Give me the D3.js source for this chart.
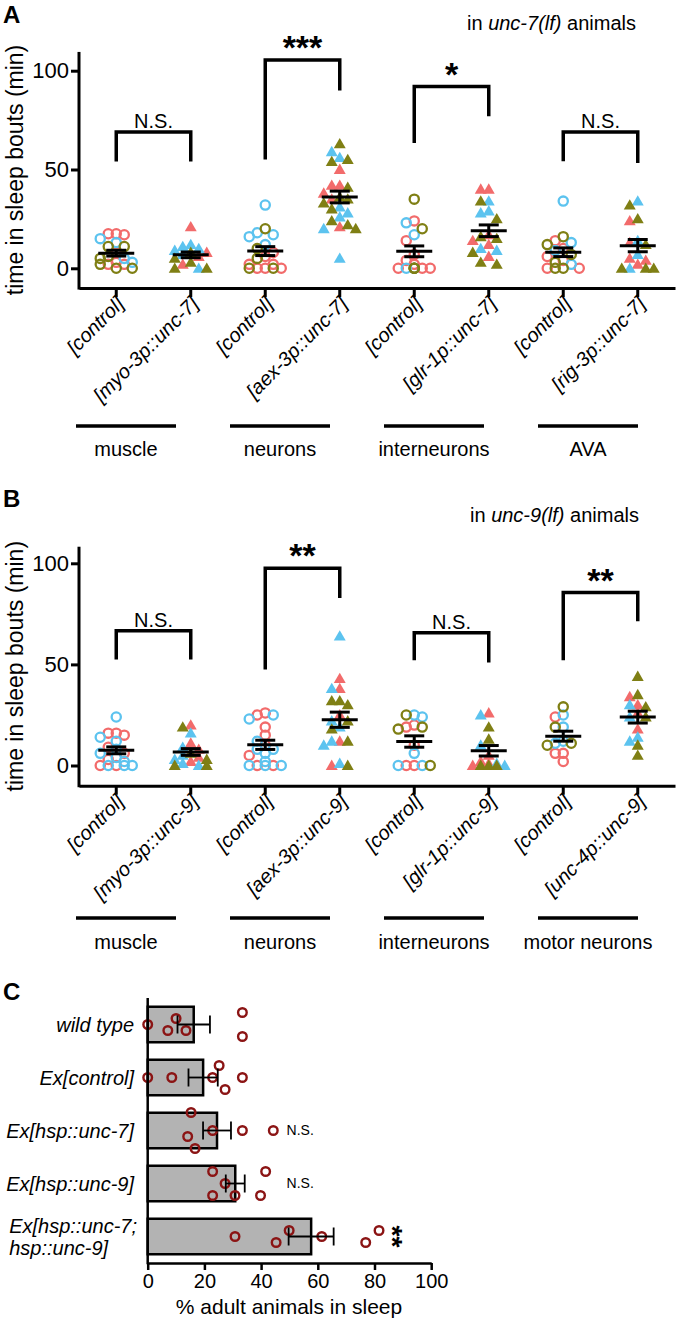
<!DOCTYPE html>
<html>
<head>
<meta charset="utf-8">
<script src="https://cdn.jsdelivr.net/npm/d3@7"></script>
<style>
body { margin: 0; background: #fff; }
svg { display: block; font-family: "Liberation Sans", Arial, sans-serif; }
text { white-space: pre; }
</style>
</head>
<body>
<svg id="fig" width="677" height="1323"></svg>
<script>
// replicate colours: salmon, sky blue, olive
const COLORS = ["#f26b6b", "#5cc3ef", "#7f7f14"];

// ---- panel A : unc-7(lf)
const catsA = ["[control]", "[myo-3p::unc-7]", "[control]", "[aex-3p::unc-7]",
               "[control]", "[glr-1p::unc-7]", "[control]", "[rig-3p::unc-7]"];
const groupsA = ["muscle", "neurons", "interneurons", "AVA"];
const aSalmon = [
  [17.5, 17.5, 17, 8, 3, 2, 2],
  [21, 8, 6, 2],
  [8, 6, 2, 2, 0, 0, 0],
  [50, 42, 42, 38, 35, 21],
  [24, 14, 7, 4, 2, 0, 0, 0],
  [40, 40, 14, 12, 6, 17],
  [14, 10, 6, 4, 0, 0],
  [24, 13, 5, 4, 2]
];
const aBlue = [
  [15, 13, 5, 3],
  [12, 11, 10, 9, 7, 0],
  [32, 18, 17, 16, 12],
  [59, 56, 31, 28, 26, 20, 5],
  [23, 17, 0, 0],
  [34, 29, 28, 10, 9],
  [34, 13, 9, 2],
  [34, 14, 7, 0]
];
const aOlive = [
  [11, 11, 6, 5, 2, 0, 0],
  [8, 5, 3, 0, 0],
  [20, 10, 5, 0, 0],
  [63, 55, 54, 41, 36, 35, 33, 30, 24, 22, 20],
  [35, 20, 0, 0, 0],
  [34, 25, 16, 15, 8, 3, 2],
  [16, 12, 7, 3, 0, 0],
  [32, 25, 12, 0, 0, 0]
];
// [bracket top, left leg end, right leg end, label]
const bracketsA = [[69, 54, 54, "N.S."], [105.4, 55, 90, "***"], [92, 63.4, 77, "*"], [69, 54.2, 53.3, "N.S."]];

// ---- panel B : unc-9(lf)
const catsB = ["[control]", "[myo-3p::unc-9]", "[control]", "[aex-3p::unc-9]",
               "[control]", "[glr-1p::unc-9]", "[control]", "[unc-4p::unc-9]"];
const groupsB = ["muscle", "neurons", "interneurons", "motor neurons"];
const bSalmon = [
  [16, 16, 15, 9, 6, 3, 0, 0],
  [20, 11, 8, 4, 2],
  [26, 25, 19, 15, 10, 5, 0, 0],
  [43, 38, 25, 12, 0],
  [20, 19, 10, 0, 0],
  [26, 5, 2, 1, 0],
  [24, 6, 6, 2],
  [34, 30, 26, 18]
];
const bBlue = [
  [24, 14, 12, 8, 6, 4, 2, 0, 0, 0],
  [16, 9, 5, 3, 1, 0],
  [25, 23, 12, 8, 8, 6, 2, 0, 0, 0],
  [64, 38, 22, 19, 12, 10, 1],
  [25, 24, 6, 0, 0],
  [25, 10, 1, 0],
  [25, 19, 12, 11],
  [30, 24, 14, 12]
];
const bOlive = [
  [],
  [19, 6, 3, 0, 0],
  [],
  [32, 32, 30, 22, 18, 12, 0],
  [25, 19, 18, 0],
  [19, 13, 0, 0, 0],
  [29, 19, 11, 10],
  [44, 35, 29, 24, 10, 5]
];
const bracketsB = [[66.7, 52.4, 52.4, "N.S."], [97.5, 47.5, 82.8, "**"], [65.6, 52, 51, "N.S."], [85.5, 52, 71.3, "**"]];

// ---- panel C : heat-shock expression
const catsC = ["wild type", "Ex[control]", "Ex[hsp::unc-7]", "Ex[hsp::unc-9]", "Ex[hsp::unc-7;\nhsp::unc-9]"];
const pointsC = [
  [0, 7.1, 10, 13.5, 33.4, 33.4],
  [0, 8.5, 22.9, 25.2, 27.3, 33.4],
  [14.1, 15.3, 16.7, 22.9, 33.4, 44.3],
  [22.9, 22.9, 27.3, 30.8, 39.8, 41.6],
  [30.8, 45.3, 49.9, 61.4, 76.9, 81.6]
];
const statsC = ["", "", "N.S.", "N.S.", "**"];
const ticksC = [0, 20, 40, 60, 80, 100];

const svg = d3.select("#fig");

// greedy dodge: offsets across the value axis so marks don't pile up.
// lanes are limited to +-maxOff; when all are taken the least crowded one wins
function dodge(pos, minD, step, maxOff, center) {
  const order = d3.range(pos.length).sort((a, b) => pos[a] - pos[b]);
  const lanes = [0];
  for (let k = 1; k * step <= maxOff; k++) lanes.push(-k * step, k * step);
  const off = new Array(pos.length);
  const placed = [];
  for (const i of order) {
    let best = 0, bestD = -1;
    for (const o of lanes) {
      const d = placed.length ? d3.min(placed, j => Math.hypot(pos[i] - pos[j], o - off[j])) : Infinity;
      if (d >= minD) { best = o; bestD = d; break; }
      if (d > bestD) { best = o; bestD = d; }
    }
    off[i] = best; placed.push(i);
  }
  if (center) {
    // centre each run of touching marks around the axis
    let run = [order[0]];
    const flush = () => {
      const ext = d3.extent(run, j => off[j]);
      const s = (ext[0] + ext[1]) / 2;
      run.forEach(j => off[j] -= s);
    };
    for (let n = 1; n < order.length; n++) {
      if (pos[order[n]] - pos[order[n - 1]] < minD) run.push(order[n]);
      else { flush(); run = [order[n]]; }
    }
    flush();
  }
  return off;
}

function drawScatter(o) {
  const g = svg.append("g");
  const x = d3.scaleBand().domain(d3.range(o.cats.length)).range([79, 675]);
  const cx = i => x(i) + x.bandwidth() / 2;
  const y = d3.scaleLinear().domain([0, 100]).range([o.y0, o.y100]);
  const base = y(-10);

  // y axis
  const ya = g.append("g").attr("transform", "translate(79,0)")
    .call(d3.axisLeft(y).tickValues([0, 50, 100]).tickSize(8).tickPadding(2));
  ya.select(".domain").remove();
  ya.selectAll(".tick line").attr("stroke", "#000").attr("stroke-width", 3);
  ya.selectAll(".tick text").attr("font-size", 22).attr("fill", "#000")
    .attr("font-family", "Liberation Sans, Arial, sans-serif");
  g.append("line").attr("x1", 79).attr("x2", 79).attr("y1", y(o.yMax)).attr("y2", base + 1.5)
    .attr("stroke", "#000").attr("stroke-width", 3);

  // x axis
  const xa = g.append("g").attr("transform", `translate(0,${base})`)
    .call(d3.axisBottom(x).tickSize(9).tickSizeOuter(0).tickFormat(i => o.cats[i]));
  xa.select(".domain").attr("stroke-width", 3);
  xa.selectAll(".tick line").attr("stroke-width", 3);
  xa.selectAll(".tick text")
    .attr("font-size", 20).attr("font-style", "italic").attr("fill", "#000")
    .attr("font-family", "Liberation Sans, Arial, sans-serif")
    .attr("text-anchor", "end").attr("x", 0).attr("y", 0).attr("dy", null)
    .attr("transform", "translate(9,17) rotate(-45)");

  // y title
  g.append("text").attr("transform", `translate(23,${(y(o.yMax) + base) / 2}) rotate(-90)`)
    .attr("text-anchor", "middle").attr("font-size", 23).text("time in sleep bouts (min)");

  // points + mean ± SEM
  o.cats.forEach((c, i) => {
    const pts = [];
    o.series.forEach((s, ci) => s[i].forEach(v => pts.push({ v, ci })));
    const off = dodge(pts.map(p => y(p.v)), 8, 8, 16, false);
    const control = i % 2 === 0;
    pts.forEach((p, k) => {
      const px = cx(i) + off[k], py = y(p.v);
      if (control) {
        g.append("circle").attr("cx", px).attr("cy", py).attr("r", 4.6)
          .attr("fill", "none").attr("stroke", COLORS[p.ci]).attr("stroke-width", 2.3);
      } else {
        g.append("path").attr("d", d3.symbol(d3.symbolTriangle, 62)())
          .attr("transform", `translate(${px},${py + 1})`).attr("fill", COLORS[p.ci]);
      }
    });
    const vals = pts.map(p => p.v);
    const m = d3.mean(vals), sem = d3.deviation(vals) / Math.sqrt(vals.length);
    const eb = g.append("g").attr("stroke", "#000").attr("stroke-width", 3);
    eb.append("line").attr("x1", cx(i) - 18).attr("x2", cx(i) + 18).attr("y1", y(m)).attr("y2", y(m));
    eb.append("line").attr("x1", cx(i)).attr("x2", cx(i)).attr("y1", y(m - sem)).attr("y2", y(m + sem));
    [m - sem, m + sem].forEach(v => eb.append("line").attr("x1", cx(i) - 10).attr("x2", cx(i) + 10)
      .attr("y1", y(v)).attr("y2", y(v)));
  });

  // significance brackets
  o.brackets.forEach((b, k) => {
    const xl = cx(2 * k), xr = cx(2 * k + 1);
    g.append("path").attr("d", `M${xl},${y(b[1])}V${y(b[0])}H${xr}V${y(b[2])}`)
      .attr("fill", "none").attr("stroke", "#000").attr("stroke-width", 3.5);
    const star = b[3].startsWith("*");
    g.append("text").attr("x", (xl + xr) / 2).attr("y", y(b[0]) + (star ? -1 : -4))
      .attr("text-anchor", "middle").attr("font-size", star ? 34 : 20)
      .attr("font-weight", star ? "bold" : "normal").text(b[3]);
  });

  // tissue groups under the labels
  o.groups.forEach((name, k) => {
    const mid = (cx(2 * k) + cx(2 * k + 1)) / 2 - 20 - (1.5 - k) * 5;
    g.append("line").attr("x1", mid - 50).attr("x2", mid + 50).attr("y1", o.lineY).attr("y2", o.lineY)
      .attr("stroke", "#000").attr("stroke-width", 3.5);
    g.append("text").attr("x", mid).attr("y", o.groupY).attr("text-anchor", "middle")
      .attr("font-size", 20).text(name);
  });

  // panel letter and strain note
  g.append("text").attr("x", 3).attr("y", o.letterY).attr("font-size", 24).attr("font-weight", "bold").text(o.letter);
  const t = g.append("text").attr("x", o.noteX).attr("y", o.noteY).attr("font-size", 20);
  t.append("tspan").text("in ");
  t.append("tspan").attr("font-style", "italic").text(o.strain);
  t.append("tspan").text(" animals");
}

drawScatter({
  cats: catsA, groups: groupsA, series: [aSalmon, aBlue, aOlive], brackets: bracketsA,
  y0: 268.3, y100: 70.7, yMax: 109.5, lineY: 426, groupY: 456,
  letter: "A", letterY: 23, strain: "unc-7(lf)", noteX: 467, noteY: 30
});
drawScatter({
  cats: catsB, groups: groupsB, series: [bSalmon, bBlue, bOlive], brackets: bracketsB,
  y0: 765.5, y100: 563.3, yMax: 108.2, lineY: 918, groupY: 949,
  letter: "B", letterY: 507, strain: "unc-9(lf)", noteX: 470, noteY: 522
});

// ---- panel C
(function () {
  const g = svg.append("g");
  const x = d3.scaleLinear().domain([0, 100]).range([147.7, 431.2]);
  const y = d3.scaleBand().domain(d3.range(catsC.length)).range([998, 1263])
    .paddingInner(0.33).paddingOuter(0.165);
  const bw = y.bandwidth();

  pointsC.forEach((vals, i) => {
    const m = d3.mean(vals), sem = d3.deviation(vals) / Math.sqrt(vals.length);
    const yc = y(i) + bw / 2;
    g.append("rect").attr("x", x(0)).attr("y", y(i)).attr("width", x(m) - x(0)).attr("height", bw)
      .attr("fill", "#b3b3b3").attr("stroke", "#000").attr("stroke-width", 2.5);
    const off = dodge(vals.map(v => x(v)), 13.5, 12, 24, true);
    vals.forEach((v, k) => g.append("circle").attr("cx", x(v)).attr("cy", yc + off[k]).attr("r", 4.3)
      .attr("fill", "none").attr("stroke", "#8b1414").attr("stroke-width", 2.4));
    const eb = g.append("g").attr("stroke", "#000").attr("stroke-width", 1.8);
    eb.append("line").attr("x1", x(m - sem)).attr("x2", x(m + sem)).attr("y1", yc).attr("y2", yc);
    [m - sem, m + sem].forEach(v => eb.append("line").attr("x1", x(v)).attr("x2", x(v))
      .attr("y1", yc - 9).attr("y2", yc + 9));

    // category label (multi-line labels are left-aligned as a block)
    const lines = catsC[i].split("\n");
    const lab = g.append("text").attr("font-size", 20).attr("font-style", "italic");
    if (lines.length === 1) {
      lab.attr("x", 134).attr("y", yc).attr("dy", "0.35em").attr("text-anchor", "end").text(lines[0]);
    } else {
      lines.forEach((s, n) => lab.append("tspan").attr("x", 0)
        .attr("y", yc + (n - (lines.length - 1) / 2) * 22).attr("dy", "0.35em").text(s));
      const w = lab.node().getBBox().width;
      lab.attr("transform", `translate(${137 - w},0)`);
    }

    const st = statsC[i];
    if (st === "N.S.") {
      g.append("text").attr("x", x(49)).attr("y", yc).attr("dy", "0.35em").attr("font-size", 14).text(st);
    } else if (st) {
      // asterisks stacked vertically (text turned a quarter)
      g.append("text").attr("transform", `translate(${x(88) - 14},${yc}) rotate(90)`)
        .attr("text-anchor", "middle").attr("font-size", 28).attr("font-weight", "bold").text(st);
    }
  });

  g.append("line").attr("x1", x(0)).attr("x2", x(0)).attr("y1", 998).attr("y2", 1264.2)
    .attr("stroke", "#000").attr("stroke-width", 2.5);
  const xa = g.append("g").attr("transform", "translate(0,1263)")
    .call(d3.axisBottom(x).tickValues(ticksC).tickSize(7).tickSizeOuter(0).tickPadding(4));
  xa.select(".domain").attr("stroke-width", 2.5);
  xa.selectAll(".tick line").attr("stroke-width", 2.5);
  xa.selectAll(".tick text").attr("font-size", 20).attr("fill", "#000")
    .attr("font-family", "Liberation Sans, Arial, sans-serif");
  g.append("text").attr("x", 289).attr("y", 1314).attr("text-anchor", "middle").attr("font-size", 21)
    .text("% adult animals in sleep");
  g.append("text").attr("x", 3).attr("y", 1000).attr("font-size", 24).attr("font-weight", "bold").text("C");
})();
</script>
</body>
</html>
